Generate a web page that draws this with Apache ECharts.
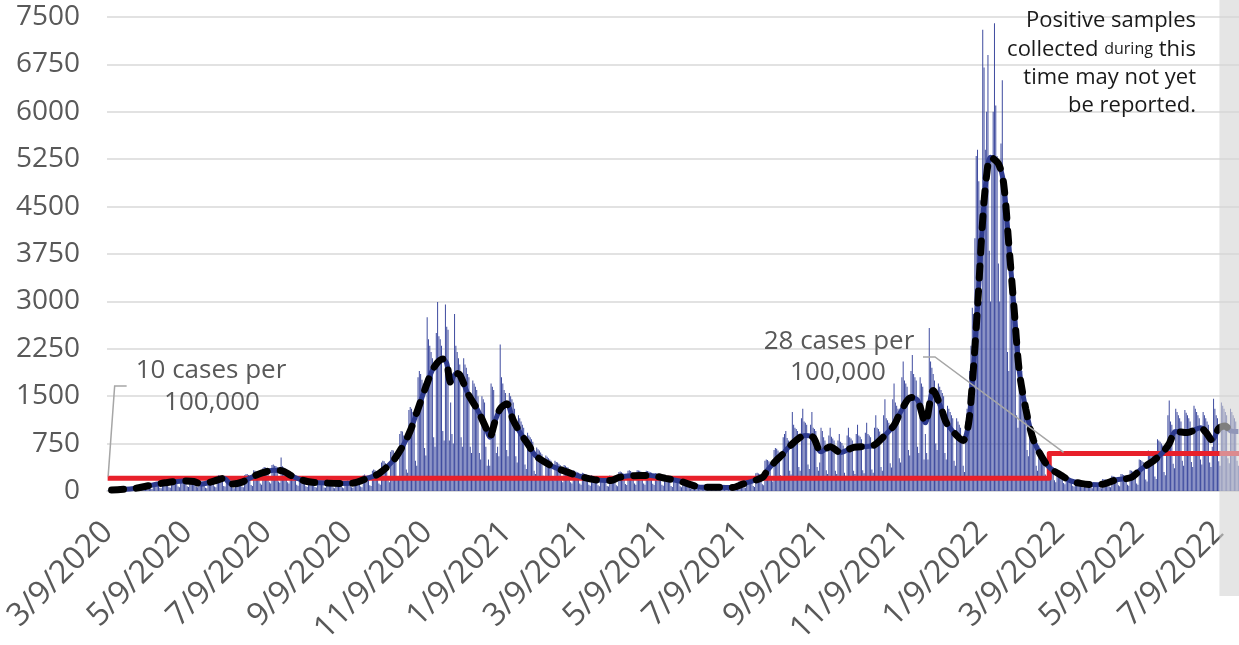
<!DOCTYPE html>
<html>
<head>
<meta charset="utf-8">
<script src="https://cdn.jsdelivr.net/npm/echarts@6/dist/echarts.min.js"></script>
<style>
  html, body { margin: 0; padding: 0; background: #fff; }
  #chart { width: 1239px; height: 645px; }
</style>
</head>
<body>
<div id="chart"></div>
<script>
// daily positive samples, one row per week (Mon..Sun), first day 3/9/2020
const dailyCases = [
  5, 8, 12, 18, 20, 10, 8,
  20, 28, 35, 32, 30, 15, 12,
  40, 45, 50, 48, 42, 22, 18,
  60, 70, 72, 65, 62, 30, 25,
  95, 100, 105, 98, 90, 40, 32,
  130, 140, 145, 135, 125, 50, 45,
  160, 170, 165, 155, 150, 60, 50,
  185, 190, 195, 180, 170, 70, 60,
  200, 210, 195, 190, 185, 75, 65,
  190, 185, 180, 175, 165, 70, 60,
  150, 140, 135, 130, 125, 50, 45,
  90, 200, 210, 205, 190, 70, 60,
  240, 250, 245, 230, 220, 80, 70,
  140, 150, 145, 130, 120, 50, 45,
  170, 185, 190, 180, 175, 70, 60,
  250, 265, 270, 255, 240, 95, 80,
  330, 320, 310, 300, 290, 120, 100,
  360, 380, 370, 365, 350, 140, 120,
  410, 420, 400, 395, 380, 150, 130,
  530, 390, 370, 360, 340, 140, 120,
  300, 280, 270, 260, 240, 100, 85,
  220, 210, 200, 195, 185, 75, 65,
  190, 180, 175, 165, 160, 65, 55,
  165, 160, 155, 150, 145, 55, 50,
  160, 155, 150, 145, 140, 55, 45,
  155, 150, 145, 140, 135, 55, 45,
  95, 160, 165, 155, 150, 60, 50,
  190, 185, 180, 180, 175, 70, 60,
  250, 260, 245, 240, 230, 90, 80,
  320, 340, 330, 310, 300, 120, 100,
  450, 480, 470, 440, 420, 170, 140,
  620, 650, 640, 600, 580, 230, 190,
  900, 950, 940, 880, 860, 340, 290,
  1280, 1330, 1300, 1250, 1200, 480, 400,
  1800, 1900, 1850, 1760, 1700, 680, 560,
  2750, 2400, 2300, 2200, 2100, 850, 700,
  2500, 2990, 2450, 2400, 2300, 950, 800,
  2950, 2600, 2550, 800, 1400, 900, 750,
  2800, 2300, 2200, 2100, 2000, 850, 700,
  2100, 2000, 1950, 1850, 1800, 700, 600,
  1750, 1700, 1650, 1600, 1500, 600, 500,
  1500, 1450, 1400, 700, 400, 500, 400,
  1700, 1650, 1600, 900, 600, 700, 550,
  2320, 1800, 1700, 1600, 1550, 650, 550,
  1550, 1500, 1450, 1400, 1300, 550, 450,
  1200, 1150, 1100, 1050, 1000, 420, 350,
  920, 880, 850, 820, 780, 320, 270,
  690, 660, 640, 610, 580, 240, 200,
  560, 540, 520, 500, 480, 200, 170,
  480, 460, 450, 430, 410, 170, 140,
  410, 400, 380, 370, 350, 140, 120,
  330, 320, 310, 300, 290, 120, 100,
  290, 280, 270, 260, 250, 100, 85,
  250, 240, 230, 220, 210, 90, 75,
  230, 225, 220, 210, 200, 80, 70,
  245, 240, 235, 225, 215, 90, 75,
  300, 310, 295, 285, 270, 110, 95,
  320, 330, 315, 300, 290, 120, 100,
  330, 325, 320, 305, 295, 120, 100,
  320, 315, 310, 300, 290, 115, 95,
  280, 275, 265, 255, 245, 100, 85,
  230, 225, 215, 205, 195, 80, 65,
  220, 210, 200, 195, 185, 75, 60,
  150, 145, 140, 135, 130, 50, 40,
  95, 90, 88, 85, 80, 35, 28,
  75, 72, 70, 68, 65, 28, 22,
  78, 76, 74, 72, 68, 30, 24,
  82, 80, 77, 74, 70, 30, 25,
  75, 74, 72, 68, 62, 28, 22,
  80, 150, 155, 150, 145, 60, 50,
  215, 220, 210, 205, 195, 80, 65,
  280, 290, 275, 265, 255, 105, 90,
  480, 500, 490, 470, 450, 180, 150,
  650, 680, 670, 640, 610, 250, 200,
  850, 900, 950, 840, 800, 320, 260,
  1250, 1050, 1000, 980, 950, 380, 320,
  1150, 1300, 1100, 1080, 1050, 420, 350,
  1050, 1250, 1000, 980, 950, 380, 320,
  450, 1000, 950, 850, 800, 330, 270,
  880, 1000, 860, 830, 800, 320, 270,
  800, 900, 780, 760, 720, 290, 240,
  880, 1000, 850, 830, 800, 320, 270,
  900, 1050, 880, 860, 820, 330, 280,
  920, 1080, 900, 880, 850, 340, 290,
  1000, 1200, 1000, 980, 940, 380, 320,
  1200, 1450, 1150, 1120, 1080, 440, 370,
  1450, 1700, 1400, 1350, 1300, 520, 450,
  1800, 2050, 1750, 1700, 1650, 650, 560,
  1900, 2150, 1850, 1800, 1750, 700, 600,
  1800, 1700, 1650, 500, 900, 600, 500,
  2580, 2050, 1950, 1850, 1750, 750, 650,
  1700, 1650, 1600, 1550, 1500, 600, 500,
  1350, 1300, 1250, 1200, 1150, 480, 400,
  1150, 1100, 1050, 1000, 800, 400, 300,
  1100, 1300, 1500, 1900, 2300, 2900, 2800,
  4000, 5300, 5400, 4900, 4600, 3000, 7300,
  6700, 5400, 6000, 6900, 3800, 3000, 5300,
  6000, 7400, 6100, 5300, 3600, 3000, 5500,
  6500, 5000, 4800, 4200, 2200, 1900, 4100,
  3600, 3200, 2800, 2500, 1200, 1000, 2400,
  2100, 1900, 1700, 1500, 1300, 650, 550,
  1100, 1000, 950, 900, 850, 400, 320,
  720, 680, 640, 600, 560, 260, 210,
  470, 450, 430, 400, 380, 170, 140,
  340, 330, 320, 300, 280, 125, 105,
  230, 220, 210, 200, 190, 85, 70,
  170, 165, 160, 150, 145, 65, 55,
  140, 135, 130, 125, 120, 52, 45,
  140, 138, 132, 126, 120, 55, 45,
  190, 185, 180, 170, 165, 70, 60,
  240, 235, 225, 215, 205, 90, 75,
  270, 265, 255, 245, 235, 100, 85,
  330, 320, 310, 300, 285, 120, 100,
  500, 490, 480, 460, 440, 180, 150,
  640, 620, 600, 580, 560, 230, 190,
  820, 800, 780, 750, 720, 300, 250,
  600, 1200, 1430, 1100, 1050, 430, 360,
  1300, 1250, 1200, 1150, 1100, 480, 400,
  1280, 1240, 1200, 1150, 1100, 460, 380,
  1350, 1300, 1250, 1200, 1150, 500, 420,
  1250, 1200, 1150, 1100, 1050, 450, 380,
  700, 1460, 1300, 1200, 1150, 470, 400,
  1400, 1350, 1300, 1250, 1200, 520, 440,
  1300, 1250, 1200, 1150, 1100, 480, 400
];

// 7-day average, read at the turning points (day index from 3/9/2020)
const avgDays = [
  3, 20, 33, 44, 58, 66, 72, 82, 89, 95, 103, 110, 119, 127, 134, 142, 153, 163,
  179, 188, 199, 208, 219, 226, 232, 238, 244, 250, 257, 260, 263, 267, 270, 276,
  284, 290, 293, 297, 301, 306, 311, 317, 323, 328, 340, 349, 360, 373, 386, 392,
  401, 409, 416, 428, 440, 447, 455, 470, 479, 487, 502, 506, 512, 518, 522, 535,
  541, 547, 554, 562, 572, 587, 593, 603, 608, 616, 621, 627, 633, 639, 643, 650,
  656, 660, 663, 667, 671, 674, 677, 683, 687, 691, 695, 699, 704, 710, 718, 723,
  731, 738, 746, 754, 762, 773, 785, 793, 802, 809, 814, 819, 828, 838, 842, 847,
  852, 857, 861, 867
];
const avgValues = [
  15, 40, 90, 130, 160, 150, 110, 160, 200, 110, 140, 215, 290, 330, 320, 230, 150, 130,
  120, 125, 200, 275, 480, 700, 950, 1300, 1650, 1950, 2090, 2020, 1720, 1860, 1840, 1550,
  1270, 1000, 850, 1100, 1300, 1380, 1120, 900, 720, 560, 400, 325, 245, 180, 165, 215,
  240, 245, 245, 200, 150, 100, 60, 58, 55, 110, 215, 330, 470, 590, 690, 880,
  850, 620, 700, 610, 690, 720, 820, 1040, 1250, 1480, 1440, 1080, 1590, 1320, 1085, 900,
  800, 1050, 1700, 2900, 4300, 5000, 5280, 5180, 4870, 3900, 2900, 1900, 1300, 800, 480, 355,
  250, 165, 120, 100, 105, 175, 215, 355, 480, 610, 750, 940, 925, 1000, 930, 800,
  990, 1030, 950, 940
];

// 10 and 28 cases per 100,000
const thresholdDays = [0, 722, 867.5];
const thresholdValues = [200, 595, 595];

const tickLabels = [
  '3/9/2020', '5/9/2020', '7/9/2020', '9/9/2020', '11/9/2020', '1/9/2021', '3/9/2021',
  '5/9/2021', '7/9/2021', '9/9/2021', '11/9/2021', '1/9/2022', '3/9/2022', '5/9/2022', '7/9/2022'
];

const pendingFromDay = 853;

const categories = [];
for (let i = 0; i < dailyCases.length; i++) {
    const d = new Date(Date.UTC(2020, 2, 9 + i));
    categories.push((d.getUTCMonth() + 1) + '/' + d.getUTCDate() + '/' + d.getUTCFullYear());
}

const isTick = (idx, value) => tickLabels.indexOf(value) >= 0;
const font = '"Open Sans", "Noto Sans", sans-serif';
const avgData = avgDays.map((d, i) => [d, avgValues[i]]);

const chart = echarts.init(document.getElementById('chart'));

chart.setOption({
    animation: false,
    grid: { left: 107, right: 0, top: 17, bottom: 154, containLabel: false, outerBoundsMode: 'none' },
    xAxis: [
        {
            type: 'category',
            data: categories,
            boundaryGap: true,
            axisLine: { lineStyle: { color: '#d9d9d9', width: 1.5 } },
            axisTick: {
                interval: isTick,
                alignWithLabel: true,
                length: 11,
                lineStyle: { color: '#d9d9d9', width: 1.5 }
            },
            axisLabel: {
                interval: isTick,
                rotate: 45,
                margin: 36,
                color: '#595959',
                fontSize: 32,
                fontFamily: font
            }
        },
        { type: 'value', min: -0.5, max: dailyCases.length - 0.5, show: false }
    ],
    yAxis: {
        type: 'value',
        min: 0,
        max: 7500,
        interval: 750,
        axisLine: { show: false },
        axisTick: { show: false },
        axisLabel: {
            margin: 27,
            color: '#595959',
            fontSize: 28,
            fontFamily: font,
            formatter: v => String(v)
        },
        splitLine: { lineStyle: { color: '#d9d9d9', width: 1.5 } }
    },
    series: [
        {
            type: 'bar',
            data: dailyCases,
            barCategoryGap: '25%',
            itemStyle: { color: '#3e4b9f' },
            z: 2
        },
        {
            type: 'line',
            xAxisIndex: 1,
            data: thresholdDays.map((d, i) => [d, thresholdValues[i]]),
            step: 'end',
            symbol: 'none',
            lineStyle: { color: '#e8202a', width: 5, join: 'round' },
            z: 3
        },
        {
            type: 'line',
            xAxisIndex: 1,
            data: avgData,
            smooth: 0.3,
            symbol: 'none',
            lineStyle: { color: '#2d3a8e', width: 5 },
            z: 4
        },
        {
            type: 'line',
            xAxisIndex: 1,
            data: avgData,
            smooth: 0.3,
            symbol: 'none',
            lineStyle: { color: '#000', width: 7, type: [12, 13], cap: 'round' },
            z: 5
        }
    ]
});

const px = (d, v) => chart.convertToPixel({ xAxisIndex: 1, yAxisIndex: 0 }, [d, v]);
const lowStart = px(thresholdDays[0], thresholdValues[0]);
const highEnd = px(733, thresholdValues[1]);
const bandLeft = px(pendingFromDay - 0.5, 0)[0];

const note = (x, y, text, size, color, align) => ({
    type: 'text',
    x: x,
    y: y,
    z: 60,
    style: {
        text: text,
        fontSize: size,
        fontFamily: font,
        fill: color,
        align: align || 'center',
        verticalAlign: 'middle',
        rich: {
            s: { fontSize: 16, fontFamily: font, fill: color }
        }
    }
});

chart.setOption({
    graphic: [
        {
            type: 'polyline',
            z: 50,
            shape: { points: [[lowStart[0] + 0.5, lowStart[1] - 2], [lowStart[0] + 7, 386], [lowStart[0] + 19, 386]] },
            style: { stroke: '#a6a6a6', lineWidth: 1.5, fill: null }
        },
        {
            type: 'polyline',
            z: 50,
            shape: { points: [[923, 357], [935, 357], [highEnd[0], highEnd[1] - 1]] },
            style: { stroke: '#a6a6a6', lineWidth: 1.5, fill: null }
        },
        note(211, 371, '10 cases per', 26, '#595959'),
        note(212, 403, '100,000', 26, '#595959'),
        note(839, 342, '28 cases per', 26, '#595959'),
        note(838, 373, '100,000', 26, '#595959'),
        note(1196, 21, 'Positive samples', 22, '#1a1a1a', 'right'),
        note(1196, 49.5, 'collected {s|during} this', 22, '#1a1a1a', 'right'),
        note(1196, 78, 'time may not yet', 22, '#1a1a1a', 'right'),
        note(1196, 106, 'be reported.', 22, '#1a1a1a', 'right'),
        {
            type: 'rect',
            z: 100,
            shape: { x: bandLeft, y: 0, width: 1239 - bandLeft, height: 596 },
            style: { fill: 'rgba(212,212,212,0.6)' }
        }
    ]
});
</script>
</body>
</html>
